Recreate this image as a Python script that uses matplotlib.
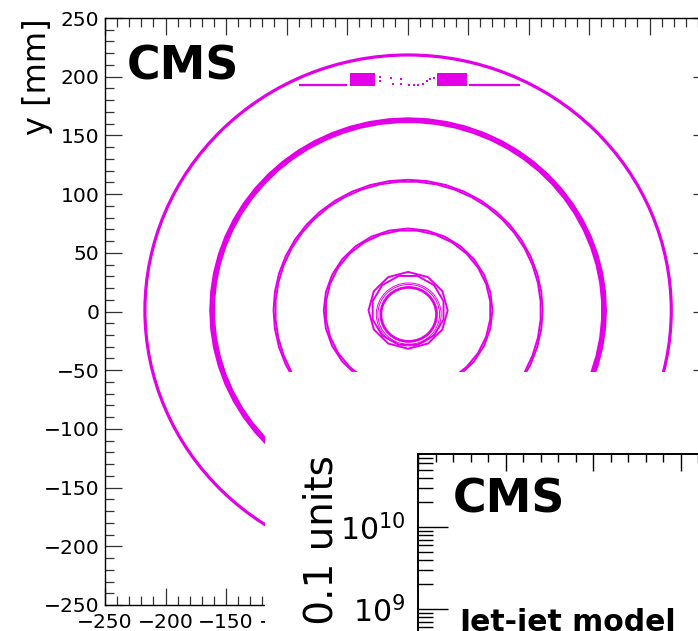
import matplotlib
matplotlib.use("Agg")
import matplotlib.pyplot as plt
from matplotlib.patches import Circle, RegularPolygon, Rectangle
from matplotlib.ticker import (MultipleLocator, AutoMinorLocator, LogLocator,
                               NullFormatter, FuncFormatter)

# ---- tracker layer structure seen in the x-y vertex map (mm) ----
layer_names = ["beam pipe", "BPix L1", "BPix L2", "BPix L3", "BPix L4", "support tube"]
layer_radius = [23.0, 31.5, 69.0, 110.5, 162.0, 217.5]
layer_ladders = [0, 12, 28, 44, 64, 0]
ring_center = (0.5, 1.0)
pipe_center = (1.0, -2.5)
thin_shell_radius = [25.5, 26.8]

# support rail structure near the top of the outer shell
rail_y = 193.0
rail_segments = [(-90.0, -50.0), (51.0, 93.0)]
rail_block_x = [-37.0, 37.0]
rail_block_w = [21.0, 25.0]
rail_block_h = [11.0, 11.0]
rail_dot_x = [-23, -23, -14, -12, -5, -5, 1, 5, 9, 13, 16, 19, 22]
rail_dot_y = [196, 200, 199, 194, 198, 194, 193, 193, 193, 194, 196, 198, 199]

# second panel (log-scale distribution)
panel2_ylim = (10 ** 7.89, 10 ** 10.89)
panel2_xlim = (0.0, 4.0)

MAG = "#e300e8"
W, H = 698, 631
fig = plt.figure(figsize=(W / 100, H / 100), dpi=100)
fig.patch.set_facecolor("white")

# ---------------- main x-y map ----------------
ax = fig.add_axes([105 / W, (H - 605) / H, (710 - 105) / W, (605 - 18) / H])
ax.set_xlim(-250, 250)
ax.set_ylim(-250, 250)

for r, n in zip(layer_radius, layer_ladders):
    if r == layer_radius[0]:
        ax.add_patch(Circle(pipe_center, r, fill=False, ec=MAG, lw=2.0))
        for rs in thin_shell_radius:
            ax.add_patch(Circle(pipe_center, rs, fill=False, ec=MAG, lw=0.7))
        continue
    if n == 0:
        ax.add_patch(Circle(ring_center, r, fill=False, ec=MAG, lw=2.3))
        continue
    # alternating inner/outer ladders give the saw-tooth look of each layer
    if r > 150:
        lw, dr = 2.4, 1.0
    elif r > 50:
        lw, dr = 1.4, 0.7
    else:
        lw, dr = 1.4, 1.2
    step = 3.14159 / n
    ax.add_patch(RegularPolygon(ring_center, n, radius=r + dr, orientation=0.0,
                                fill=False, ec=MAG, lw=lw))
    ax.add_patch(RegularPolygon(ring_center, n, radius=r - dr, orientation=step,
                                fill=False, ec=MAG, lw=lw))

for x0, x1 in rail_segments:
    ax.plot([x0, x1], [rail_y, rail_y], color=MAG, lw=1.6, solid_capstyle="butt")
ax.bar(rail_block_x, rail_block_h, width=rail_block_w, bottom=rail_y - 1,
       color=MAG, edgecolor="none")
ax.scatter(rail_dot_x, rail_dot_y, s=3, marker="s", color=MAG, linewidths=0)

ax.xaxis.set_major_locator(MultipleLocator(50))
ax.yaxis.set_major_locator(MultipleLocator(50))
ax.xaxis.set_minor_locator(AutoMinorLocator(5))
ax.yaxis.set_minor_locator(AutoMinorLocator(5))
# only the left part of the x scale stays uncovered by the second panel
ax.xaxis.set_major_formatter(
    FuncFormatter(lambda v, p: f"\u2212{abs(v):.0f}" if v <= -100 else ""))
ax.tick_params(which="both", direction="in", top=True, right=True,
               color="#333333", width=0.9, labelsize=14.6)
ax.tick_params(which="major", length=12.2)
ax.tick_params(which="minor", length=6.3)
ax.tick_params(axis="x", pad=6)
ax.tick_params(axis="y", pad=4)
for s in ax.spines.values():
    s.set_color("black")
    s.set_linewidth(1.0)

ax.set_ylabel("y [mm]", loc="top", fontsize=23)
ax.yaxis.set_label_coords((53 - 105) / 605, 1.0)

ax.text(0.036, 0.955, "CMS", transform=ax.transAxes, fontsize=33,
        fontweight="bold", ha="left", va="top")

# ---------------- overlaid second panel ----------------
cover = Rectangle((265 / W, 0), 1 - 265 / W, (H - 372) / H,
                  transform=fig.transFigure, facecolor="white",
                  edgecolor="none", zorder=1)
fig.patches.append(cover)

ax2 = fig.add_axes([418 / W, (H - 700) / H, 350 / W, (700 - 454) / H], zorder=2)
ax2.set_yscale("log")
ax2.set_ylim(*panel2_ylim)
ax2.set_xlim(*panel2_xlim)
ax2.xaxis.set_major_locator(MultipleLocator(1))
ax2.xaxis.set_minor_locator(AutoMinorLocator(5))
ax2.yaxis.set_major_locator(LogLocator(base=10))
ax2.yaxis.set_minor_locator(LogLocator(base=10, subs=range(2, 10)))
ax2.yaxis.set_minor_formatter(NullFormatter())
ax2.tick_params(which="both", direction="in", top=True, right=True,
                color="black", width=1.0, labelbottom=False)
ax2.tick_params(axis="y", which="major", length=21.5, labelsize=21.5, pad=9)
ax2.tick_params(axis="y", which="minor", length=10.5)
ax2.tick_params(axis="x", which="major", length=12.2)
ax2.tick_params(axis="x", which="minor", length=6.0)
for s in ax2.spines.values():
    s.set_color("black")
    s.set_linewidth(1.4)

ax2.text(0.098, 0.905, "CMS", transform=ax2.transAxes, fontsize=33,
         fontweight="bold", ha="left", va="top")
ax2.text(0.12, (700 - 631) / 246, "Jet-jet model", transform=ax2.transAxes,
         fontsize=21.5, fontweight="bold", ha="left", va="baseline")

fig.text(333 / W, (H - 455) / H, "Events / 0.1 units", rotation=90,
         rotation_mode="anchor", ha="right", va="baseline", fontsize=28,
         zorder=3)

fig.savefig("out.png", dpi=100, facecolor="white")
